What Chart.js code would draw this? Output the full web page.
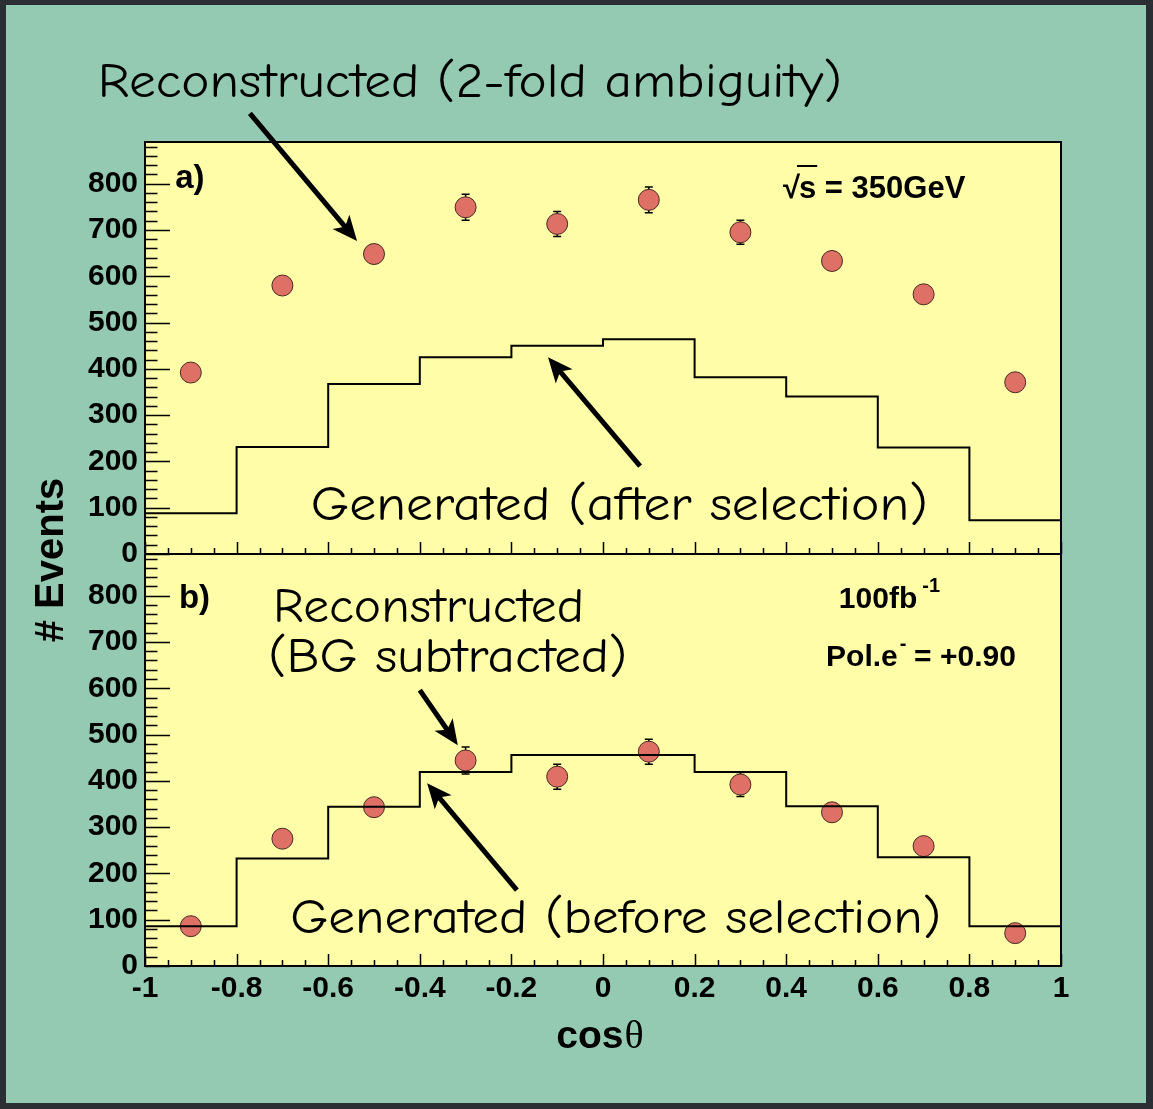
<!DOCTYPE html>
<html>
<head>
<meta charset="utf-8">
<script src="https://cdn.jsdelivr.net/npm/chart.js@4.4.1/dist/chart.umd.min.js"></script>
<style>
  html, body { margin: 0; padding: 0; background: #2b2e33; }
  #frame { position: absolute; left: 6px; top: 5px; width: 1140px; height: 1098px; background: #95cab2; }
  #c { position: absolute; left: 0; top: 0; }
</style>
</head>
<body>
<div id="frame"></div>
<canvas id="c" width="1153" height="1109"></canvas>
<script>
// cos(theta) binning : 10 bins of 0.2
const binEdges   = [-1, -0.8, -0.6, -0.4, -0.2, 0, 0.2, 0.4, 0.6, 0.8, 1];
const binCenters = [-0.9, -0.7, -0.5, -0.3, -0.1, 0.1, 0.3, 0.5, 0.7, 0.9];

// a) reconstructed (2-fold ambiguity) + generated after selection
const recoA    = [392, 580, 648, 749, 713, 765, 695, 633, 561, 371];
const recoAErr = [17, 19, 20, 28, 27, 28, 26, 20, 19, 17];
const genA     = [88, 231, 367, 425, 450, 464, 382, 340, 230, 73];

// b) reconstructed (BG subtracted) + generated before selection
const recoB    = [86, 275, 343, 444, 409, 463, 392, 332, 259, 71];
const recoBErr = [12, 17, 19, 29, 27, 27, 26, 19, 17, 11];
const genB     = [86, 232, 344, 419, 456, 456, 419, 345, 235, 86];

const xTicks      = [-1, -0.8, -0.6, -0.4, -0.2, 0, 0.2, 0.4, 0.6, 0.8, 1];
const xTickLabels = ['-1', '-0.8', '-0.6', '-0.4', '-0.2', '0', '0.2', '0.4', '0.6', '0.8', '1'];
const yTicks      = [0, 100, 200, 300, 400, 500, 600, 700, 800];
const yTickLabels = ['0', '100', '200', '300', '400', '500', '600', '700', '800'];
const yMax = 890;

const SANS = '"Liberation Sans", Arial, Helvetica, sans-serif';
const COMIC = '"Comic Sans MS", "Comic Neue", Lato, sans-serif';

// histogram -> step points on the bin edges
function steps(vals) {
  const pts = vals.map((v, i) => ({ x: binEdges[i], y: v }));
  pts.push({ x: binEdges[binEdges.length - 1], y: vals[vals.length - 1] });
  return pts;
}
function points(vals) {
  return binCenters.map((x, i) => ({ x: x, y: vals[i] }));
}

function yScale(id) {
  return {
    type: 'linear', position: 'left', stack: 'events', stackWeight: 1,
    min: 0, max: yMax,
    grid: { display: false, drawTicks: false },
    border: { display: false },
    afterBuildTicks: s => { s.ticks = yTicks.map(v => ({ value: v })); },
    afterFit: s => { s.width = 145; },
    ticks: {
      autoSkip: false, padding: 7, color: '#000',
      font: { family: SANS, size: 30, weight: 'bold' },
      callback: (v, i) => yTickLabels[i]
    }
  };
}

function fitText(ctx, txt, x, y, font, w) {
  ctx.font = font;
  const m = ctx.measureText(txt).width;
  ctx.save();
  ctx.translate(x, y);
  ctx.scale(w / m, 1);
  ctx.fillText(txt, 0, 0);
  ctx.restore();
}

function arrow(ctx, x1, y1, x2, y2) {
  const a = Math.atan2(y2 - y1, x2 - x1);
  const L = 25, W = 11;
  const c = Math.cos(a), s = Math.sin(a);
  const bx = x2 - L * c, by = y2 - L * s;
  ctx.lineWidth = 5;
  ctx.lineCap = 'butt';
  ctx.beginPath();
  ctx.moveTo(x1, y1);
  ctx.lineTo(x2 - L * 0.7 * c, y2 - L * 0.7 * s);
  ctx.stroke();
  ctx.beginPath();
  ctx.moveTo(x2, y2);
  ctx.lineTo(bx - W * s, by + W * c);
  ctx.lineTo(x2 - L * 0.75 * c, y2 - L * 0.75 * s);
  ctx.lineTo(bx + W * s, by - W * c);
  ctx.closePath();
  ctx.fill();
}

const rootStyle = {
  id: 'rootStyle',
  beforeDraw(chart) {
    const { ctx, chartArea: a } = chart;
    ctx.save();
    ctx.fillStyle = '#fffda8';
    ctx.fillRect(a.left, a.top, a.right - a.left, a.bottom - a.top);
    ctx.restore();
  },
  beforeDatasetDraw(chart, args) {
    const ds = chart.data.datasets[args.index];
    if (!ds.errors) return;
    const ctx = chart.ctx, xs = chart.scales.x, ys = chart.scales[ds.yAxisID];
    ctx.save();
    ctx.strokeStyle = '#000';
    ctx.lineWidth = 1.5;
    ds.data.forEach((p, i) => {
      const px = xs.getPixelForValue(p.x);
      const hi = ys.getPixelForValue(p.y + ds.errors[i]);
      const lo = ys.getPixelForValue(p.y - ds.errors[i]);
      ctx.beginPath();
      ctx.moveTo(px, hi); ctx.lineTo(px, lo);
      ctx.moveTo(px - 4, hi); ctx.lineTo(px + 4, hi);
      ctx.moveTo(px - 4, lo); ctx.lineTo(px + 4, lo);
      ctx.stroke();
    });
    ctx.restore();
  },
  afterDraw(chart) {
    const { ctx, chartArea: a } = chart;
    const xs = chart.scales.x, yA = chart.scales.yA, yB = chart.scales.yB;
    ctx.save();
    ctx.strokeStyle = '#000';
    ctx.fillStyle = '#000';

    // inward ticks, ROOT style
    ctx.lineWidth = 1.5;
    ctx.beginPath();
    [yA, yB].forEach(ys => {
      for (let v = 0; v <= ys.max; v += 20) {
        const py = Math.round(ys.getPixelForValue(v)) + 0.5;
        const len = v % 100 === 0 ? 25 : 12.5;
        ctx.moveTo(a.left, py); ctx.lineTo(a.left + len, py);
      }
      for (let k = 0; k <= 40; k++) {
        const px = Math.round(xs.getPixelForValue(-1 + k * 0.05)) + 0.5;
        const len = k % 4 === 0 ? 12 : 6;
        ctx.moveTo(px, ys.bottom); ctx.lineTo(px, ys.bottom - len);
      }
    });
    ctx.stroke();

    // frames
    ctx.lineWidth = 2;
    ctx.strokeRect(a.left, a.top, a.right - a.left, a.bottom - a.top);
    ctx.beginPath();
    ctx.moveTo(a.left, yA.bottom); ctx.lineTo(a.right, yA.bottom);
    ctx.stroke();

    const P = (ys, x, y) => [xs.getPixelForValue(x), ys.getPixelForValue(y)];

    // axis titles
    ctx.textAlign = 'left';
    ctx.textBaseline = 'alphabetic';
    ctx.font = 'bold 39px ' + SANS;
    const cx = xs.getPixelForValue(-0.1) - 1;
    ctx.fillText('cos', cx, 1048);
    const cw = ctx.measureText('cos').width;
    ctx.font = '40px "Liberation Serif", "Times New Roman", serif';
    ctx.fillText('\u03b8', cx + cw + 1, 1048);

    ctx.save();
    ctx.translate(63, yA.bottom + 6);
    ctx.rotate(-Math.PI / 2);
    ctx.textAlign = 'center';
    ctx.font = 'bold 40px ' + SANS;
    ctx.fillText('# Events', 0, 0);
    ctx.restore();

    // panel labels
    ctx.font = 'bold 33px ' + SANS;
    let p = P(yA, -0.934, 790);
    ctx.fillText('a)', p[0], p[1]);
    p = P(yB, -0.926, 773);
    ctx.fillText('b)', p[0], p[1]);

    // sqrt(s) = 350GeV
    p = P(yA, 0.393, 769);
    ctx.font = 'bold 31px ' + SANS;
    ctx.fillText('\u221a', p[0], p[1]);
    const rw = ctx.measureText('\u221a').width;
    ctx.fillText('s', p[0] + rw - 1, p[1]);
    const sw = ctx.measureText('s').width;
    ctx.lineWidth = 2;
    ctx.beginPath();
    ctx.moveTo(p[0] + rw - 3, p[1] - 32); ctx.lineTo(p[0] + rw + sw, p[1] - 32);
    ctx.stroke();
    ctx.fillText(' = 350GeV', p[0] + rw - 1 + sw, p[1]);

    // luminosity & polarisation
    ctx.font = 'bold 30px ' + SANS;
    p = P(yB, 0.515, 773);
    ctx.fillText('100fb', p[0], p[1]);
    let w = ctx.measureText('100fb').width;
    ctx.font = 'bold 20px ' + SANS;
    ctx.fillText('-1', p[0] + w + 5, p[1] - 16);
    p = P(yB, 0.487, 648);
    ctx.font = 'bold 30px ' + SANS;
    ctx.fillText('Pol.e', p[0], p[1]);
    w = ctx.measureText('Pol.e').width;
    ctx.font = 'bold 20px ' + SANS;
    ctx.fillText('-', p[0] + w + 2, p[1] - 16);
    ctx.font = 'bold 30px ' + SANS;
    ctx.fillText(' = +0.90', p[0] + w + 8, p[1]);

    // hand-written annotations
    const cf = '48px ' + COMIC;
    p = P(yA, -1.103, 987);  fitText(ctx, 'Reconstructed (2-fold ambiguity)', p[0], p[1], cf, 744);
    p = P(yA, -0.638, 73);   fitText(ctx, 'Generated (after selection)', p[0], p[1], cf, 617);
    p = P(yB, -0.7205, 743); fitText(ctx, 'Reconstructed', p[0], p[1], cf, 311);
    p = P(yB, -0.731, 635);  fitText(ctx, '(BG subtracted)', p[0], p[1], cf, 359);
    p = P(yB, -0.683, 71);   fitText(ctx, 'Generated (before selection)', p[0], p[1], cf, 651);

    let t = P(yA, -0.771, 952), h = P(yA, -0.537, 676);
    arrow(ctx, t[0], t[1], h[0], h[1]);
    t = P(yA, 0.081, 190); h = P(yA, -0.120, 425);
    arrow(ctx, t[0], t[1], h[0], h[1]);
    t = P(yB, -0.400, 596); h = P(yB, -0.317, 477);
    arrow(ctx, t[0], t[1], h[0], h[1]);
    t = P(yB, -0.188, 164); h = P(yB, -0.384, 395);
    arrow(ctx, t[0], t[1], h[0], h[1]);

    ctx.restore();
  }
};

const histStyle = {
  type: 'line', showLine: true, stepped: 'before', fill: false,
  borderColor: '#000', borderWidth: 2, pointRadius: 0, borderJoinStyle: 'miter'
};
const markStyle = {
  showLine: false, pointRadius: 10.5, pointStyle: 'circle',
  pointBackgroundColor: '#de7066', pointBorderColor: '#4a2a22', pointBorderWidth: 1
};

new Chart(document.getElementById('c'), {
  type: 'scatter',
  data: {
    datasets: [
      Object.assign({ label: 'Generated (after selection)', data: steps(genA), yAxisID: 'yA' }, histStyle),
      Object.assign({ label: 'Reconstructed (2-fold ambiguity)', data: points(recoA), errors: recoAErr, yAxisID: 'yA' }, markStyle),
      Object.assign({ label: 'Generated (before selection)', data: steps(genB), yAxisID: 'yB' }, histStyle),
      Object.assign({ label: 'Reconstructed (BG subtracted)', data: points(recoB), errors: recoBErr, yAxisID: 'yB' }, markStyle)
    ]
  },
  options: {
    responsive: false,
    animation: false,
    devicePixelRatio: 1,
    layout: { padding: { left: 0, top: 142, right: 92, bottom: 83 } },
    plugins: { legend: { display: false }, tooltip: { enabled: false } },
    scales: {
      x: {
        type: 'linear', position: 'bottom', min: -1, max: 1,
        grid: { display: false, drawTicks: false },
        border: { display: false },
        afterBuildTicks: s => { s.ticks = xTicks.map(v => ({ value: v })); },
        afterFit: s => { s.height = 60; },
        ticks: {
          autoSkip: false, maxRotation: 0, padding: 5, color: '#000',
          font: { family: SANS, size: 30, weight: 'bold' },
          callback: (v, i) => xTickLabels[i]
        }
      },
      yB: yScale('yB'),
      yA: yScale('yA')
    }
  },
  plugins: [rootStyle]
});
</script>
</body>
</html>
